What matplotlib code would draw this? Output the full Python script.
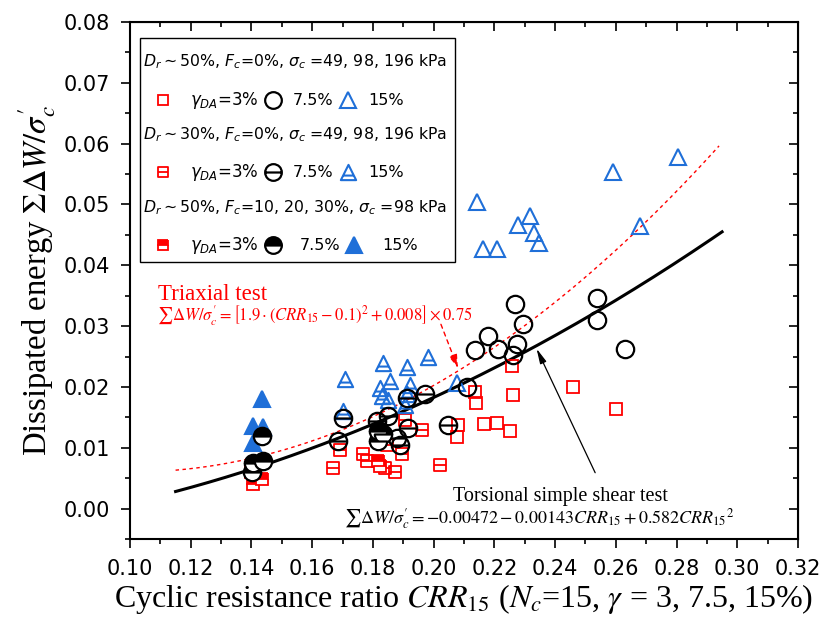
import numpy as np
import matplotlib
matplotlib.use('Agg')
import matplotlib.pyplot as plt
from matplotlib.path import Path
from matplotlib.patches import Rectangle
from matplotlib.ticker import MultipleLocator, FormatStrFormatter

RED = '#ff0000'
BLUE = '#1f6fd8'
BLACK = '#000000'

# Dr ~ 50 %, Fc = 0 %  (open markers)
sq_dr50_x = [0.2257, 0.2136, 0.2140, 0.2263, 0.2458, 0.2601, 0.2081, 0.2076, 0.2166, 0.2208, 0.2252]
sq_dr50_y = [0.0235, 0.0191, 0.0173, 0.0187, 0.0200, 0.0163, 0.0137, 0.0118, 0.0139, 0.0141, 0.0127]
ci_dr50_x = [0.2268, 0.2293, 0.2180, 0.2136, 0.2213, 0.2276, 0.2261, 0.2537, 0.2537, 0.2630, 0.2111]
ci_dr50_y = [0.0337, 0.0303, 0.0283, 0.0261, 0.0263, 0.0270, 0.0253, 0.0347, 0.0310, 0.0263, 0.0200]
tr_dr50_x = [0.2143, 0.2279, 0.2318, 0.2331, 0.2347, 0.2161, 0.2210, 0.2592, 0.2806, 0.2680, 0.2076]
tr_dr50_y = [0.0504, 0.0467, 0.0481, 0.0453, 0.0437, 0.0427, 0.0427, 0.0554, 0.0578, 0.0464, 0.0207]

# Dr ~ 30 %, Fc = 0 %  (markers with a bar)
sq_dr30_x = [0.1960, 0.1906, 0.1692, 0.1768, 0.1779, 0.1840, 0.1873, 0.1895, 0.1670, 0.2021, 0.1845]
sq_dr30_y = [0.0130, 0.0146, 0.0097, 0.0089, 0.0078, 0.0067, 0.0061, 0.0089, 0.0067, 0.0072, 0.0105]
ci_dr30_x = [0.1972, 0.1911, 0.1851, 0.1812, 0.1703, 0.1917, 0.1686, 0.1878, 0.1889, 0.2048]
ci_dr30_y = [0.0188, 0.0182, 0.0152, 0.0144, 0.0149, 0.0132, 0.0111, 0.0116, 0.0104, 0.0137]
tr_dr30_x = [0.1708, 0.1856, 0.1823, 0.1922, 0.1829, 0.1851, 0.1911, 0.1906, 0.1703, 0.1834, 0.1911, 0.1980]
tr_dr30_y = [0.0213, 0.0210, 0.0199, 0.0204, 0.0185, 0.0179, 0.0188, 0.0171, 0.0160, 0.0240, 0.0233, 0.0250]

# Dr ~ 50 %, Fc = 10, 20, 30 %  (half / fully filled)
sq_fc_x = [0.1404, 0.1434, 0.1400, 0.1818, 0.1823]
sq_fc_y = [0.0040, 0.0049, 0.0060, 0.0078, 0.0070]
ci_fc_x = [0.1406, 0.1439, 0.1401, 0.1434, 0.1818, 0.1834, 0.1818]
ci_fc_y = [0.0075, 0.0078, 0.0061, 0.0119, 0.0127, 0.0122, 0.0111]
tr_fc_x = [0.1434, 0.1404, 0.1437, 0.1406]
tr_fc_y = [0.0181, 0.0136, 0.0134, 0.0108]


def with_bar(base, y=0.0, half=1.0):
    bar = Path([[-half, y], [half, y]], [Path.MOVETO, Path.LINETO])
    return Path.make_compound_path(base, bar)


square = Path([[-1, -1], [1, -1], [1, 1], [-1, 1], [-1, -1]],
              [Path.MOVETO, Path.LINETO, Path.LINETO, Path.LINETO, Path.CLOSEPOLY])
triangle = Path([[0, 1], [-1, -1], [1, -1], [0, 1]],
                [Path.MOVETO, Path.LINETO, Path.LINETO, Path.CLOSEPOLY])
sq_bar = with_bar(square)
ci_bar = with_bar(Path.unit_circle())
tr_bar = with_bar(triangle, y=-0.4, half=0.72)

SQ = dict(ms=8, mew=1.3)
CI = dict(ms=12.5, mew=1.6)
TR = dict(ms=11, mew=1.5)

fig = plt.figure(figsize=(8.23, 6.22), dpi=100)
ax = fig.add_axes([0.158, 0.1334, 0.8116, 0.8312])

# fitted curves
crr = np.linspace(0.115, 0.295, 200)
ax.plot(crr, -0.00472 - 0.00143 * crr + 0.582 * crr ** 2, color=BLACK, lw=2.2, zorder=2)
crr_tx = np.linspace(0.115, 0.294, 200)
ax.plot(crr_tx, (1.9 * (crr_tx - 0.1) ** 2 + 0.008) * 0.75, color=RED, lw=1.0,
        ls=(0, (2.5, 2.5)), zorder=2)

# Dr 50 %
ax.plot(sq_dr50_x, sq_dr50_y, ls='none', marker='s', mfc='none', mec=RED, **SQ, zorder=3)
ax.plot(ci_dr50_x, ci_dr50_y, ls='none', marker='o', mfc='none', mec=BLACK, **CI, zorder=4)
ax.plot(tr_dr50_x, tr_dr50_y, ls='none', marker='^', mfc='none', mec=BLUE, **TR, zorder=3)
# Dr 30 %
ax.plot(sq_dr30_x, sq_dr30_y, ls='none', marker=sq_bar, mfc='none', mec=RED, **SQ, zorder=3)
ax.plot(ci_dr30_x, ci_dr30_y, ls='none', marker=ci_bar, mfc='none', mec=BLACK, **CI, zorder=4)
ax.plot(tr_dr30_x, tr_dr30_y, ls='none', marker=tr_bar, mfc='none', mec=BLUE, **TR, zorder=3)
# fines content
ax.plot(sq_fc_x, sq_fc_y, ls='none', marker='s', fillstyle='top', mfc=RED, mfcalt='white',
        mec=RED, **SQ, zorder=3)
ax.plot(ci_fc_x, ci_fc_y, ls='none', marker='o', fillstyle='top', mfc=BLACK, mfcalt='white',
        mec=BLACK, **CI, zorder=4)
ax.plot(tr_fc_x, tr_fc_y, ls='none', marker='^', mfc=BLUE, mec=BLUE, **TR, zorder=3)

ax.set_xlim(0.10, 0.32)
ax.set_ylim(-0.005, 0.08)
ax.xaxis.set_major_locator(MultipleLocator(0.02))
ax.xaxis.set_minor_locator(MultipleLocator(0.01))
ax.yaxis.set_major_locator(MultipleLocator(0.01))
ax.yaxis.set_minor_locator(MultipleLocator(0.005))
ax.xaxis.set_major_formatter(FormatStrFormatter('%.2f'))
ax.yaxis.set_major_formatter(FormatStrFormatter('%.2f'))
for sp in ax.spines.values():
    sp.set_linewidth(1.5)
ax.tick_params(which='major', direction='out', length=6.5, width=1.2, labelsize=15, pad=8)
ax.tick_params(which='minor', direction='out', length=3.5, width=1.2)
for lab in ax.get_xticklabels() + ax.get_yticklabels():
    lab.set_fontfamily('DejaVu Sans')

top = ax.secondary_xaxis('top')
top.xaxis.set_major_locator(MultipleLocator(0.02))
top.xaxis.set_minor_locator(MultipleLocator(0.01))
top.tick_params(which='major', direction='in', length=6.5, width=1.2, labeltop=False)
top.tick_params(which='minor', direction='in', length=3.5, width=1.2)
right = ax.secondary_yaxis('right')
right.yaxis.set_major_locator(MultipleLocator(0.01))
right.yaxis.set_minor_locator(MultipleLocator(0.005))
right.tick_params(which='major', direction='in', length=6.5, width=1.2, labelright=False)
right.tick_params(which='minor', direction='in', length=3.5, width=1.2)

ax.set_xlabel(r'Cyclic resistance ratio $CRR_{15}$ ($N_c$=15, $\gamma$ = 3, 7.5, 15%)',
              fontsize=23, family='Liberation Serif', math_fontfamily='stix', labelpad=2)
ax.set_ylabel(r'Dissipated energy $\Sigma\Delta W/\sigma_c^{\prime}$',
              fontsize=23.5, family='Liberation Serif', math_fontfamily='stix', labelpad=4)

# annotations for the two fitted curves
ax.text(0.1092, 0.0343, 'Triaxial test', color=RED, fontsize=16.5, family='Liberation Serif',
        va='baseline', ha='left')
ax.text(0.1090, 0.0317,
        r'$\sum\Delta W/\sigma_c^{\prime}=\left[1.9\cdot(CRR_{15}-0.1)^2+0.008\right]\times0.75$',
        color=RED, fontsize=12, math_fontfamily='stix', va='center', ha='left')
ax.annotate('', xy=(0.2080, 0.0231), xytext=(0.2024, 0.0303),
            arrowprops=dict(arrowstyle='-|>,head_length=0.8,head_width=0.25', color=RED,
                            lw=1.0, ls=(0, (3, 3)), shrinkA=0, shrinkB=0))
ax.text(0.2416, 0.0020, 'Torsional simple shear test', color=BLACK, fontsize=14.5,
        family='Liberation Serif', va='center', ha='center')
ax.text(0.2990, -0.0016,
        r'$\sum\Delta W/\sigma_c^{\prime}=-0.00472-0.00143CRR_{15}+0.582{CRR_{15}}^2$',
        color=BLACK, fontsize=13, math_fontfamily='stix', va='center', ha='right')
ax.annotate('', xy=(0.2339, 0.0263), xytext=(0.2532, 0.0059),
            arrowprops=dict(arrowstyle='-|>,head_length=0.9,head_width=0.2', color=BLACK,
                            lw=0.9, shrinkA=0, shrinkB=0))

# legend box
tf = ax.transAxes
ax.add_patch(Rectangle((0.015, 0.5358), 0.4715, 0.4332, transform=tf, fill=False,
                       ec=BLACK, lw=1.0, zorder=5))
head_rows = [r'$D_r\sim$50%, $F_c$=0%, $\sigma_c$ =49, 98, 196 kPa',
             r'$D_r\sim$30%, $F_c$=0%, $\sigma_c$ =49, 98, 196 kPa',
             r'$D_r\sim$50%, $F_c$=10, 20, 30%, $\sigma_c$ =98 kPa']
head_y = [0.9226, 0.7814, 0.6402]
mark_y = [0.849, 0.7099, 0.5687]
for txt, y in zip(head_rows, head_y):
    ax.text(0.0195, y, txt, transform=tf, fontsize=11.3, family='DejaVu Sans',
            math_fontfamily='dejavusans', va='center', ha='left', zorder=6)

leg_kw = dict(transform=tf, clip_on=False, ls='none', zorder=6)
leg_sets = [
    (dict(marker='s', mfc='none', mec=RED), dict(marker='o', mfc='none', mec=BLACK),
     dict(marker='^', mfc='none', mec=BLUE), 0.214, 0.244, 0.326, 0.356),
    (dict(marker=sq_bar, mfc='none', mec=RED), dict(marker=ci_bar, mfc='none', mec=BLACK),
     dict(marker=tr_bar, mfc='none', mec=BLUE), 0.214, 0.244, 0.326, 0.356),
    (dict(marker='s', fillstyle='top', mfc=RED, mfcalt='white', mec=RED),
     dict(marker='o', fillstyle='top', mfc=BLACK, mfcalt='white', mec=BLACK),
     dict(marker='^', mfc=BLUE, mec=BLUE), 0.2136, 0.2545, 0.335, 0.377),
]
for (sq_kw, ci_kw, tr_kw, cx, ctx, tx, ttx), y in zip(leg_sets, mark_y):
    ax.plot([0.0494], [y], ms=7, mew=1.3, **sq_kw, **leg_kw)
    ax.plot([cx], [y], ms=12, mew=1.6, **ci_kw, **leg_kw)
    ax.plot([tx], [y], ms=11, mew=1.5, **tr_kw, **leg_kw)
    ax.text(0.0898, y, r'$\gamma_{DA}$=3%', transform=tf, fontsize=12, family='DejaVu Sans',
            math_fontfamily='dejavusans', va='center', ha='left', zorder=6)
    ax.text(ctx, y, '7.5%', transform=tf, fontsize=11.5, family='DejaVu Sans',
            va='center', ha='left', zorder=6)
    ax.text(ttx, y, '15%', transform=tf, fontsize=11.5, family='DejaVu Sans',
            va='center', ha='left', zorder=6)

fig.savefig('out.png', dpi=100)
